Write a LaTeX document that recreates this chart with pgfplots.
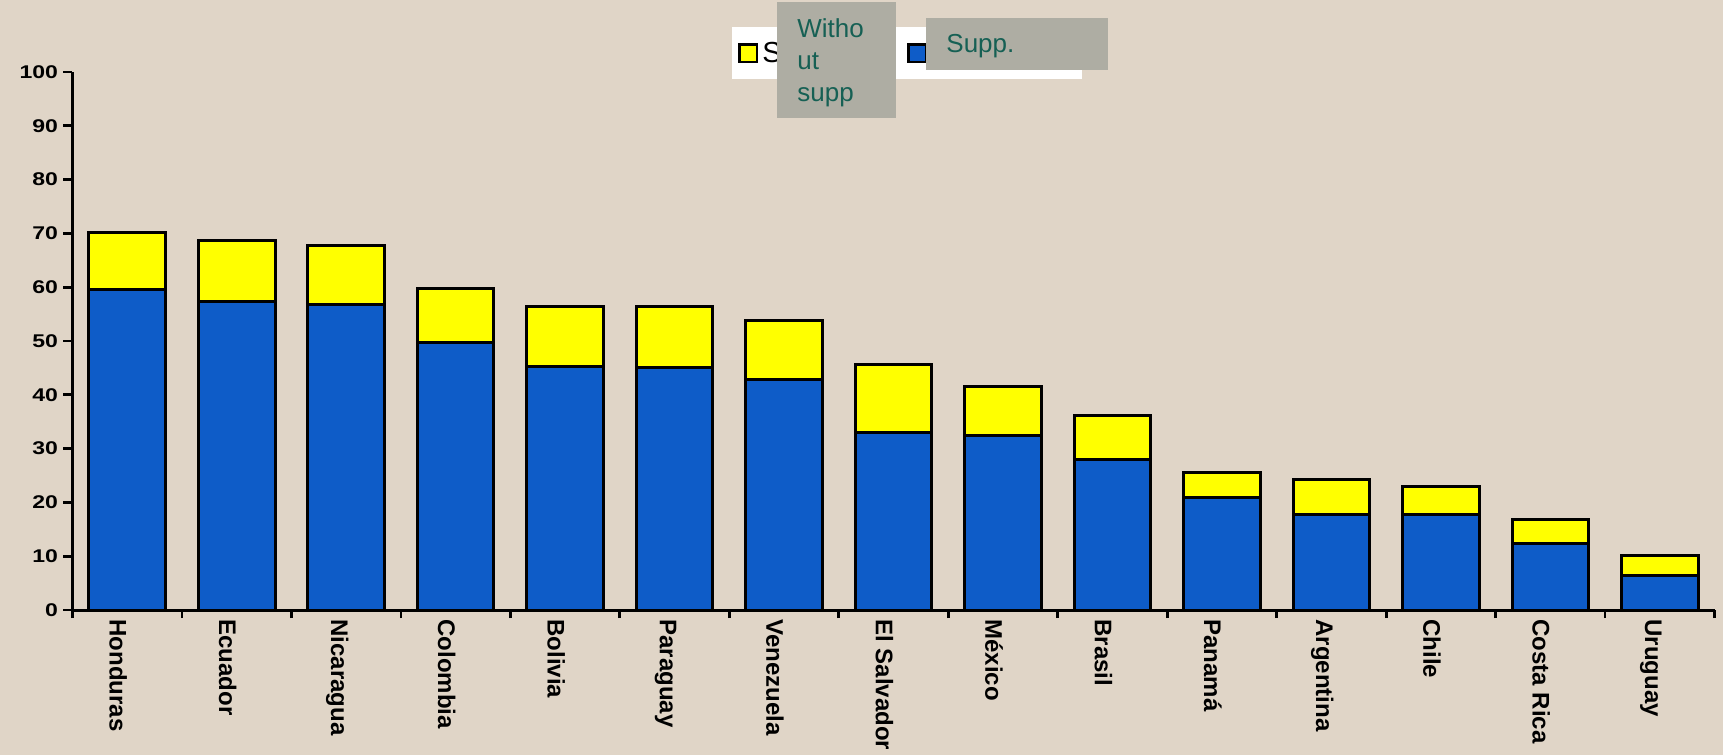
\documentclass[border=0pt]{standalone}
\usepackage{fontspec}
\setmainfont{Liberation Sans}
\usepackage{pgfplots}
\usepackage{pgfplotstable}
\pgfplotsset{compat=1.18}

\definecolor{paper}{RGB}{224,213,199}
\definecolor{barblue}{RGB}{14,92,200}
\definecolor{baryellow}{RGB}{255,255,0}
\definecolor{notegray}{RGB}{174,173,163}
\definecolor{noteteal}{RGB}{22,96,84}

% share of population, with and without support (stacked)
\pgfplotstableread{
idx supp without
0  59.5 10.6
1  57.3 11.4
2  56.8 11.0
3  49.8 10.0
4  45.3 11.2
5  45.0 11.5
6  42.8 11.0
7  32.9 12.8
8  32.5  9.0
9  28.0  8.2
10 21.0  4.6
11 17.7  6.6
12 17.7  5.3
13 12.3  4.5
14  6.4  3.7
}\datatable

\begin{document}
\begin{tikzpicture}
\useasboundingbox (0,0) rectangle (861.5pt,377.5pt);
\fill[paper] (0,0) rectangle (861.5pt,377.5pt);
\begin{axis}[
  at={(36.25pt,72.5pt)}, anchor=south west,
  scale only axis, width=821pt, height=269pt,
  xmin=-0.5, xmax=14.5, ymin=0, ymax=100,
  ybar stacked, bar width=0.7,
  axis x line=bottom, axis y line=left,
  axis line style={-, line width=1.5pt, black},
  tick align=outside,
  major tick length=4.5pt, minor tick length=4pt,
  ytick={0,10,...,100},
  ytick style={line width=1.4pt, black},
  xtick={0,...,14},
  minor xtick={-0.5,0.5,...,14.5},
  major x tick style={draw=none},
  minor x tick style={line width=1.4pt, black},
  xticklabels={Honduras,Ecuador,Nicaragua,Colombia,Bolivia,Paraguay,Venezuela,El Salvador,México,Brasil,Panamá,Argentina,Chile,Costa Rica,Uruguay},
  xticklabel style={rotate=-90, anchor=west, inner sep=0pt, yshift=-4.5pt,
    font=\bfseries\fontsize{12}{14}\selectfont},
  yticklabel style={font=\bfseries\fontsize{9.2}{10}\selectfont, xscale=1.25, inner xsep=2pt},
  /pgf/number format/assume math mode=true,
  legend image code/.code={\draw[#1, line width=1.2pt] (0pt,-4.4pt) rectangle (8.8pt,4.4pt);},
  legend columns=2,
  legend cell align=left,
  legend style={at={(0.4016,1.0836)}, anchor=north west, fill=white, draw=none,
    font=\fontsize{14.5}{16}\selectfont, inner xsep=3pt, inner ysep=5pt,
    /tikz/every even column/.append style={column sep=6pt}},
]
\addlegendimage{fill=baryellow, draw=black}
\addlegendentry{Sin ayuda}
\addlegendimage{fill=barblue, draw=black}
\addlegendentry{Con ayuda}
\addplot[forget plot, fill=barblue, draw=black, line width=1.5pt] table[x=idx, y=supp] {\datatable};
\addplot[forget plot, fill=baryellow, draw=black, line width=1.5pt] table[x=idx, y=without] {\datatable};
\end{axis}
% translation notes laid over the legend
\fill[notegray] (388.5pt,318.5pt) rectangle (448pt,376.5pt);
\begin{scope}[every node/.style={anchor=base west, inner sep=0pt, text=noteteal, font=\fontsize{13}{16}\selectfont}]
\node at (398.5pt,358.5pt) {Witho};
\node at (398.5pt,342.5pt) {ut};
\node at (398.5pt,326.5pt) {supp};
\end{scope}
\fill[notegray] (463pt,342.5pt) rectangle (554pt,368.5pt);
\node[anchor=base west, inner sep=0pt, text=noteteal, font=\fontsize{13}{16}\selectfont] at (473pt,351pt) {Supp.};
\end{tikzpicture}
\end{document}
